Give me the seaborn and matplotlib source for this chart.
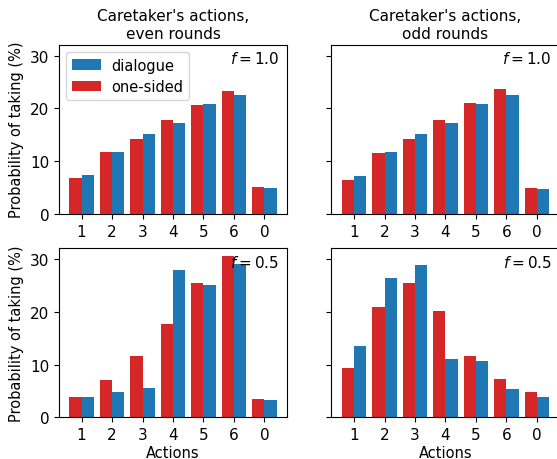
import matplotlib
matplotlib.use("Agg")
import matplotlib.pyplot as plt
import seaborn as sns
import pandas as pd

actions = ["1", "2", "3", "4", "5", "6", "0"]
series_names = ["one-sided", "dialogue"]
colors = {"one-sided": "#d62728", "dialogue": "#1f77b4"}

# f = 1.0, even rounds
even_f10_onesided = [6.8, 11.8, 14.2, 17.8, 20.7, 23.3, 5.1]
even_f10_dialogue = [7.4, 11.8, 15.2, 17.3, 20.9, 22.6, 4.9]
# f = 1.0, odd rounds
odd_f10_onesided = [6.5, 11.6, 14.2, 17.8, 21.1, 23.7, 4.9]
odd_f10_dialogue = [7.2, 11.8, 15.2, 17.3, 20.9, 22.6, 4.75]
# f = 0.5, even rounds
even_f05_onesided = [3.85, 7.1, 11.6, 17.7, 25.5, 30.6, 3.5]
even_f05_dialogue = [3.85, 4.8, 5.55, 28.0, 25.1, 29.1, 3.3]
# f = 0.5, odd rounds
odd_f05_onesided = [9.35, 20.9, 25.5, 20.2, 11.6, 7.3, 4.8]
odd_f05_dialogue = [13.5, 26.4, 28.9, 11.1, 10.7, 5.4, 3.85]

col_titles = ["Caretaker's actions,\neven rounds", "Caretaker's actions,\nodd rounds"]
row_labels = ["$f = 1.0$", "$f = 0.5$"]

panels = [
    [(even_f10_onesided, even_f10_dialogue), (odd_f10_onesided, odd_f10_dialogue)],
    [(even_f05_onesided, even_f05_dialogue), (odd_f05_onesided, odd_f05_dialogue)],
]

plt.rcParams["font.size"] = 11


def to_frame(onesided, dialogue):
    rows = []
    for name, vals in zip(series_names, (onesided, dialogue)):
        for a, v in zip(actions, vals):
            rows.append({"action": a, "series": name, "prob": v})
    return pd.DataFrame(rows)


fig, axes = plt.subplots(2, 2, figsize=(5.57, 4.6), dpi=100, sharey=True)
fig.subplots_adjust(left=59 / 557, right=559.5 / 557, top=1 - 45.5 / 460,
                    bottom=1 - 418.3 / 460, wspace=0.195, hspace=0.2)

for r in range(2):
    for c in range(2):
        ax = axes[r, c]
        df = to_frame(*panels[r][c])
        sns.barplot(data=df, x="action", y="prob", hue="series", order=actions,
                    hue_order=series_names, palette=colors, saturation=1,
                    width=0.8, ax=ax, legend=(r == 0 and c == 0), errorbar=None)
        ax.set_xlim(-0.74, 6.74)
        ax.text(0.965, 0.965, row_labels[r], transform=ax.transAxes,
                ha="right", va="top", fontsize=11)
        ax.set_xlabel("Actions" if r == 1 else "", labelpad=2, fontsize=10.5)
        ax.set_ylabel("Probability of taking (%)" if c == 0 else "",
                      labelpad=4, fontsize=10.5)
        if r == 0:
            ax.set_title(col_titles[c], fontsize=11, pad=5)
        ax.set_yticks([0, 10, 20, 30])
        ax.tick_params(labelsize=11)

ax0 = axes[0, 0]
leg = ax0.get_legend()
handles = list(leg.legend_handles)
labels = [t.get_text() for t in leg.texts]
ax0.legend(handles[::-1], labels[::-1], loc="upper left", fontsize=10.5,
           handlelength=2.0, handletextpad=0.7, labelspacing=0.45)

fig.savefig("out.png", dpi=100)
